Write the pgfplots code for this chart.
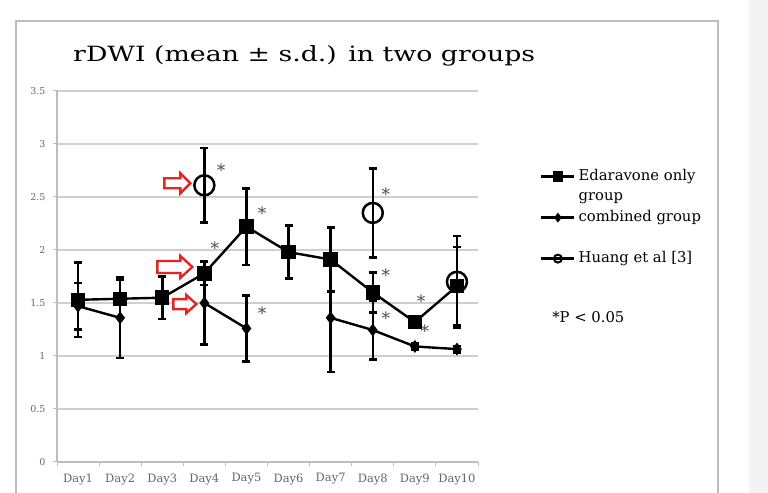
\documentclass[border=0pt]{standalone}
\usepackage{fontspec}
\setmainfont{DejaVu Serif}
\usepackage{graphicx}
\usepackage{pgfplots}
\pgfplotsset{compat=1.18}
\usepackage{pgfplotstable}

\definecolor{framegray}{HTML}{BDBDBD}
\definecolor{gridgray}{HTML}{CFCFCF}
\definecolor{panelgray}{HTML}{F3F3F3}
\definecolor{labelgray}{HTML}{666666}
\definecolor{arrowred}{HTML}{E52521}

\pgfplotstableread{
x y err
1 1.53 0.35
2 1.54 0.18
3 1.55 0.20
4 1.78 0.11
5 2.22 0.36
6 1.98 0.25
7 1.91 0.30
8 1.60 0.19
9 1.32 0.04
10 1.66 0.37
}\edaravone

\pgfplotstableread{
x y err
1 1.47 0.22
2 1.36 0.38
3 nan nan
4 1.50 0.39
5 1.26 0.31
6 nan nan
7 1.36 0.51
8 1.245 0.28
9 1.09 0.03
10 1.065 0.03
}\combined

\pgfplotstableread{
x y err
4 2.61 0.35
8 2.35 0.42
10 1.70 0.43
}\huang

\begin{document}
\begin{tikzpicture}[x=1bp,y=1bp]
\useasboundingbox (0,0) rectangle (768,493);
\fill[panelgray] (749,0) rectangle (768,493);
\draw[framegray, line width=1.6bp] (16,-2) -- (16,472) -- (718,472) -- (718,-2);

\begin{axis}[
  at={(57bp,31bp)}, anchor=south west,
  scale only axis, width=421bp, height=371bp,
  xmin=0.5, xmax=10.5, ymin=0, ymax=3.5,
  axis x line*=bottom, axis y line*=left,
  axis line style={-, framegray, line width=1.2bp},
  xtick={1,...,10},
  xticklabels={Day1,Day2,Day3,Day4,Day5,Day6,Day7,Day8,Day9,Day10},
  minor xtick={0.5,1.5,...,10.5},
  ytick={0,0.5,...,3.5},
  tick align=outside,
  major tick length=4bp, minor tick length=4bp,
  tick style={framegray, line width=1bp},
  major x tick style={draw=none},
  ymajorgrids, grid style={gridgray, line width=1.3bp},
  /pgf/number format/assume math mode=true,
  xticklabel style={font=\fontsize{11.5bp}{13bp}\selectfont, text=labelgray, yshift=-4bp},
  yticklabel style={font=\fontsize{9.5bp}{11bp}\selectfont, text=labelgray, xshift=-4bp},
  unbounded coords=jump,
  clip=false,
  legend image code/.code={\draw[mark repeat=2,mark phase=2,#1] plot coordinates {(0bp,0bp) (16.5bp,0bp) (33bp,0bp)};},
  legend style={draw=none, fill=none, at={(1.1473,0.790)}, anchor=north west,
    font=\fontsize{14.8bp}{17bp}\selectfont, inner sep=0pt, row sep=5.5bp, column sep=3bp,
    nodes={inner sep=0pt, text height=11bp, text depth=4bp}},
  legend cell align=left,
]
\addlegendimage{black, line width=2.4bp, mark=square*, mark size=4bp}
\addlegendentry{Edaravone only}
\addlegendimage{empty legend}
\addlegendentry{group}
\addlegendimage{black, line width=2.4bp, mark=diamond*, mark size=3bp}
\addlegendentry{combined group}
\addlegendimage{empty legend}
\addlegendentry{}
\addlegendimage{black, line width=2.4bp, mark=o, mark size=4bp, mark options={line width=2bp}}
\addlegendentry{Huang et al [3]}

\addplot[forget plot, black, line width=2.4bp, mark=square*, mark size=6bp,
  error bars/.cd, y dir=both, y explicit,
  error bar style={line width=2.5bp},
  error mark options={rotate=90, mark size=4bp, line width=2.5bp}]
  table[x=x, y=y, y error=err] {\edaravone};
\addplot[forget plot, black, line width=2.4bp, mark=diamond*, mark size=4.5bp,
  error bars/.cd, y dir=both, y explicit,
  error bar style={line width=2.5bp},
  error mark options={rotate=90, mark size=4bp, line width=2.5bp}]
  table[x=x, y=y, y error=err] {\combined};
\addplot[forget plot, only marks, black, mark=o, mark size=10bp, mark options={line width=2.5bp},
  error bars/.cd, y dir=both, y explicit,
  error bar style={line width=2.5bp},
  error mark options={rotate=90, mark size=4bp, line width=2.5bp}]
  table[x=x, y=y, y error=err] {\huang};

% significance asterisks
\begin{scope}[every node/.style={font=\fontsize{17bp}{20bp}\selectfont, text=black!70, inner sep=0pt}]
\node at (axis cs:4.40,2.75) {*};
\node at (axis cs:4.25,2.02) {*};
\node at (axis cs:5.37,2.35) {*};
\node at (axis cs:5.37,1.40) {*};
\node at (axis cs:8.31,2.53) {*};
\node at (axis cs:8.31,1.76) {*};
\node at (axis cs:8.31,1.36) {*};
\node at (axis cs:9.15,1.52) {*};
\node at (axis cs:9.24,1.235) {*};
\end{scope}

% red arrows
\draw[arrowred, line width=2.4bp, fill=white, line join=miter]
  (axis cs:4,2.63) ++(-14bp,0bp) -- ++(-10bp,10bp) -- ++(0bp,-5bp) -- ++(-16bp,0bp) -- ++(0bp,-10bp) -- ++(16bp,0bp) -- ++(0bp,-5bp) -- cycle;
\draw[arrowred, line width=2.4bp, fill=white, line join=miter]
  (axis cs:4,1.84) ++(-12bp,0bp) -- ++(-12bp,11bp) -- ++(0bp,-5bp) -- ++(-23bp,0bp) -- ++(0bp,-12bp) -- ++(23bp,0bp) -- ++(0bp,-5bp) -- cycle;
\draw[arrowred, line width=2.4bp, fill=white, line join=miter]
  (axis cs:4,1.49) ++(-8bp,0bp) -- ++(-10bp,9bp) -- ++(0bp,-4bp) -- ++(-13bp,0bp) -- ++(0bp,-10bp) -- ++(13bp,0bp) -- ++(0bp,-4bp) -- cycle;

\node[anchor=base west, font=\fontsize{14.8bp}{17bp}\selectfont, inner sep=0pt]
  at (axis description cs:1.176,0.377) {*P < 0.05};
\end{axis}

\node[anchor=base west, inner sep=0pt, font=\fontsize{21bp}{24bp}\selectfont] at (73,431) {\resizebox{462bp}{\height}{rDWI (mean ± s.d.) in two groups}};
\end{tikzpicture}
\end{document}
